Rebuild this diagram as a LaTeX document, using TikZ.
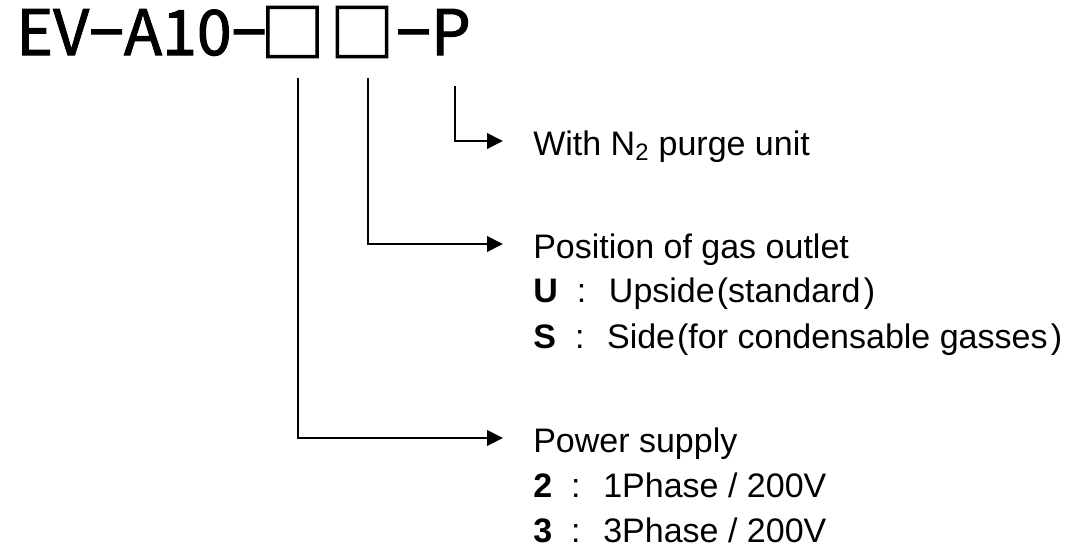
\documentclass[tikz,border=0pt]{standalone}
\usepackage{fontspec}
\setmainfont{Liberation Sans}
\newfontfamily\jpfont{Noto Sans CJK JP}[FakeBold=1.6]
\usetikzlibrary{arrows.meta}
\begin{document}
\begin{tikzpicture}[x=0.75pt,y=-0.75pt,
  conn/.style={line width=2pt,-{Triangle[length=12pt,width=11.5pt]}},
  lbl/.style={anchor=base west,inner sep=0pt,font=\fontsize{25.5pt}{30pt}\selectfont},
  ttl/.style={inner sep=0pt,font=\jpfont\fontsize{47pt}{54pt}\selectfont},
  sq/.style={inner sep=0pt,font=\jpfont\fontsize{48.5pt}{56pt}\selectfont}]
\useasboundingbox (0,0) rectangle (1088,550);
% title
\node[ttl,anchor=base west] (t1) at (16,55) {EV−A10−};
\node[sq] (b1) at (292.5,32) {□};
\node[sq] (b2) at (362,32) {□};
\node[ttl,anchor=base west] (t2) at (396,55) {−P};
% connector tops
\coordinate (c1) at (298,78);
\coordinate (c2) at (368,78);
\coordinate (c3) at (455,86);
% arrow tips
\coordinate (e3) at (503,141);
\coordinate (e2) at (503,244);
\coordinate (e1) at (503,438);
% labels
\node[lbl] (n3) at (533,155) {With N\textsubscript{2} purge unit};
\node[lbl] (n2) at (533,258) {Position of gas outlet};
\node[lbl] (n2u) at (533,302) {\textbf{U}\hspace{14.3pt}:\hspace{17pt}Upside\hspace{1.5pt}(standard\hspace{2.5pt})};
\node[lbl] (n2s) at (533,348) {\textbf{S}\hspace{14.3pt}:\hspace{17pt}Side\hspace{1.5pt}(for condensable gasses\hspace{2.5pt})};
\node[lbl] (n1) at (533,452) {Power supply};
\node[lbl] (n1a) at (533,497) {\textbf{2}\hspace{14.3pt}:\hspace{17pt}1Phase / 200V};
\node[lbl] (n1b) at (533,542) {\textbf{3}\hspace{14.3pt}:\hspace{17pt}3Phase / 200V};
% connectors
\draw[conn] (c3) |- (e3);
\draw[conn] (c2) |- (e2);
\draw[conn] (c1) |- (e1);
\end{tikzpicture}
\end{document}
